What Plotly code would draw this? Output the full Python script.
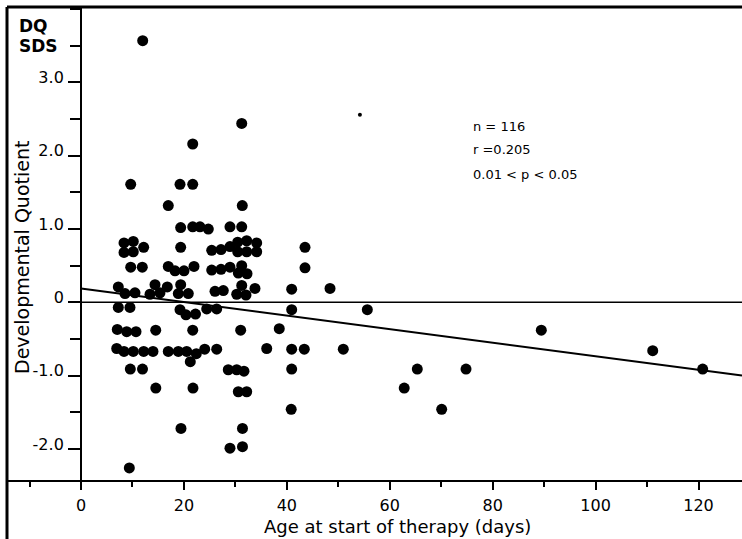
import plotly.graph_objects as go

# ---- data ----
age_days = [
    11.99, 21.71, 31.23, 9.66, 19.24, 21.71, 16.96, 31.34, 19.37, 21.71,
    23.12, 24.74, 28.95, 31.23, 8.36, 10.16, 12.18, 8.36, 10.16, 19.37,
    25.40, 27.21, 28.95, 30.45, 32.20, 34.14, 30.45, 32.20, 34.14, 43.53,
    9.66, 11.91, 16.96, 18.27, 20.02, 21.96, 25.40, 27.21, 28.95, 31.23,
    30.57, 32.26, 43.53, 7.25, 8.55, 10.49, 13.41, 14.38, 15.35, 16.77,
    19.37, 18.91, 20.85, 26.04, 27.65, 31.23, 30.26, 32.06, 33.81, 40.94,
    48.39, 7.25, 9.52, 19.24, 20.40, 22.25, 24.43, 26.37, 40.94, 55.64,
    7.05, 8.88, 10.69, 14.52, 21.71, 31.03, 38.53, 89.45, 6.94, 8.36,
    10.16, 12.18, 13.99, 16.96, 18.91, 20.54, 22.41, 24.04, 26.37, 36.09,
    40.94, 43.39, 50.97, 111.10, 21.24, 9.58, 11.95, 28.62, 30.26, 31.67,
    40.94, 65.35, 74.82, 120.81, 14.54, 21.76, 30.57, 32.20, 62.81, 40.85,
    70.09, 19.43, 31.38, 28.95, 31.38, 9.39,
]
dq_sds = [
    3.57, 2.16, 2.44, 1.61, 1.61, 1.61, 1.32, 1.32, 1.02, 1.03,
    1.03, 1.00, 1.03, 1.03, 0.81, 0.83, 0.75, 0.68, 0.69, 0.75,
    0.71, 0.72, 0.76, 0.82, 0.84, 0.81, 0.69, 0.69, 0.69, 0.75,
    0.48, 0.48, 0.49, 0.43, 0.43, 0.49, 0.44, 0.45, 0.48, 0.50,
    0.40, 0.39, 0.47, 0.21, 0.12, 0.13, 0.11, 0.24, 0.13, 0.21,
    0.24, 0.12, 0.12, 0.15, 0.16, 0.23, 0.11, 0.10, 0.19, 0.18,
    0.19, -0.07, -0.07, -0.10, -0.17, -0.16, -0.09, -0.09, -0.10, -0.10,
    -0.37, -0.40, -0.40, -0.38, -0.38, -0.38, -0.36, -0.38, -0.63, -0.67,
    -0.67, -0.67, -0.67, -0.67, -0.67, -0.67, -0.70, -0.64, -0.64, -0.63,
    -0.64, -0.64, -0.64, -0.66, -0.81, -0.91, -0.91, -0.92, -0.92, -0.94,
    -0.91, -0.91, -0.91, -0.91, -1.17, -1.17, -1.22, -1.22, -1.17, -1.46,
    -1.46, -1.72, -1.72, -1.99, -1.97, -2.26,
]
speck_age = [54.2]
speck_sds = [2.56]

reg_intercept = 0.19
reg_slope = -0.00926

x_tick_vals = [0, 20, 40, 60, 80, 100, 120]
y_tick_vals = [-2, -1, 0, 1, 2, 3]
y_tick_text = ["-2.0", "-1.0", "0", "1.0", "2.0", "3.0"]
stats_lines = ["n = 116", "r =0.205", "0.01 < p < 0.05"]

x_range = [-14.38, 128.45]
y_range = [-2.424, 4.029]

FONT = "DejaVu Sans"

fig = go.Figure()

# regression line
reg_x = [0, x_range[1]]
reg_y = [reg_intercept + reg_slope * v for v in reg_x]
fig.add_trace(go.Scatter(x=reg_x, y=reg_y, mode="lines",
                         line=dict(color="black", width=2),
                         hoverinfo="skip", showlegend=False))

# data points
fig.add_trace(go.Scatter(x=age_days, y=dq_sds, mode="markers",
                         marker=dict(color="black", size=11, line=dict(width=0)),
                         showlegend=False))
fig.add_trace(go.Scatter(x=speck_age, y=speck_sds, mode="markers",
                         marker=dict(color="black", size=4, line=dict(width=0)),
                         showlegend=False, hoverinfo="skip"))

# zero reference line
fig.add_shape(type="line", xref="x", yref="y", x0=0, x1=x_range[1], y0=0, y1=0,
              line=dict(color="black", width=1.5))

# outer frame (top and left borders)
fig.add_shape(type="line", xref="paper", yref="paper", x0=0, x1=1, y0=1, y1=1,
              line=dict(color="black", width=3))
fig.add_shape(type="line", xref="paper", yref="paper", x0=0, x1=0, y0=1, y1=-0.14,
              line=dict(color="black", width=3))

# stats text
for txt, yv in zip(stats_lines, [0.7480, 0.6993, 0.6464]):
    fig.add_annotation(text=txt, xref="paper", yref="paper", x=0.6310, y=yv,
                       xanchor="left", yanchor="middle", showarrow=False,
                       font=dict(family=FONT, size=13, color="black"))

# DQ SDS label
fig.add_annotation(text="DQ", xref="paper", yref="paper", x=0.0136, y=0.9588,
                   xanchor="left", yanchor="middle", showarrow=False,
                   font=dict(family=FONT, size=17, color="black", weight="bold"))
fig.add_annotation(text="SDS", xref="paper", yref="paper", x=0.0136, y=0.9175,
                   xanchor="left", yanchor="middle", showarrow=False,
                   font=dict(family=FONT, size=17, color="black", weight="bold"))

# axis titles
fig.add_annotation(text="Developmental Quotient", xref="paper", yref="paper",
                   x=0.0204, y=0.4715, textangle=-90, xanchor="center", yanchor="middle",
                   showarrow=False, font=dict(family=FONT, size=19, color="black"))
fig.add_annotation(text="Age at start of therapy (days)", xref="paper", yref="paper",
                   x=0.531, y=-0.0973, xanchor="center", yanchor="middle",
                   showarrow=False, font=dict(family=FONT, size=18, color="black"))

fig.update_layout(
    width=742, height=539,
    margin=dict(l=7, r=0, t=7, b=59),
    paper_bgcolor="white", plot_bgcolor="white",
    showlegend=False,
    xaxis=dict(range=x_range, showgrid=False, zeroline=False,
               showline=True, linecolor="black", linewidth=2,
               tickmode="array", tickvals=x_tick_vals,
               ticks="outside", ticklen=8, tickwidth=2, tickcolor="black",
               ticklabelstandoff=2,
               minor=dict(dtick=10, tick0=0, ticks="outside", ticklen=5,
                          tickwidth=1.5, tickcolor="black", showgrid=False),
               tickfont=dict(family=FONT, size=16, color="black")),
    yaxis=dict(range=y_range, showgrid=False, zeroline=False,
               anchor="free", position=0.1007,
               showline=True, linecolor="black", linewidth=2,
               tickmode="array", tickvals=y_tick_vals, ticktext=y_tick_text,
               ticks="outside", ticklen=12, tickwidth=1.5, tickcolor="black",
               ticklabelstandoff=1, ticklabelshift=-5,
               minor=dict(dtick=0.5, tick0=0, ticks="outside", ticklen=10,
                          tickwidth=1.5, tickcolor="black", showgrid=False),
               tickfont=dict(family=FONT, size=16, color="black")),
)

fig.write_html(
    "out.html",
    config={"displayModeBar": False},
    post_script="document.body.style.margin='0';document.body.style.overflow='hidden';",
)
